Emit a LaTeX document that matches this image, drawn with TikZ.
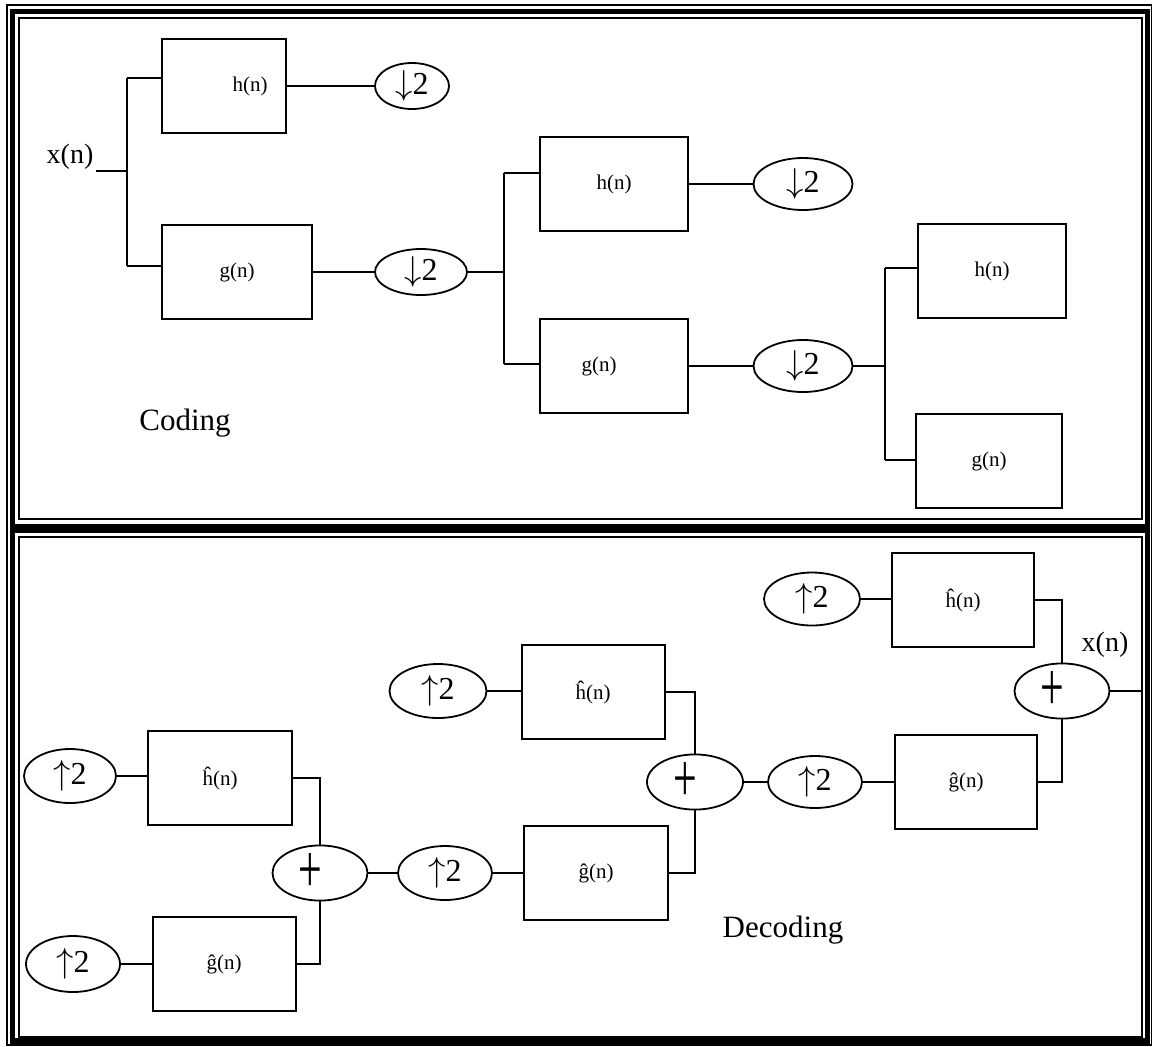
\documentclass[tikz,border=0pt]{standalone}
\usepackage{fontspec}
\setmainfont{Liberation Serif}
\usepackage{graphicx}
\usetikzlibrary{shapes.geometric}
\tikzset{
  fltbox/.style={draw,line width=1pt,inner sep=0pt,minimum width=74pt,minimum height=47pt,
                 font=\fontsize{10.5}{12}\selectfont},
  rsamp/.style={ellipse,draw,line width=0.9pt,inner sep=0pt,minimum width=47pt,minimum height=27pt,
                font=\fontsize{16}{18}\selectfont},
  sumnode/.style={ellipse,draw,line width=0.9pt,inner sep=0pt,minimum width=47.5pt,minimum height=27.5pt,
                  font=\fontsize{30}{30}\selectfont},
  wire/.style={draw,line width=0.9pt},
  sig/.style={font=\fontsize{14}{16}\selectfont},
  title/.style={font=\fontsize{15.5}{18}\selectfont},
  thinframe/.style={line width=0.8pt},
  thickframe/.style={line width=2.6pt},
}
\newcommand{\plusmark}{\hspace*{-10pt}\scalebox{0.7}[1.15]{+}}
\newcommand{\dnby}{$\downarrow$2}
\newcommand{\upby}{$\uparrow$2}

\begin{document}
\begin{tikzpicture}[x=0.5pt,y=-0.5pt]
\useasboundingbox (0,0) rectangle (1152,1046);
% --- frames ---
\draw[thinframe] (7,5) rectangle (1152,1045);
\draw[thickframe] (12.5,11.5) rectangle (1147.5,1041);
\draw[thickframe,line width=4.5pt] (12.5,528) -- (1147.5,528);
\draw[thinframe] (19,18) rectangle (1142,519);
\draw[thinframe] (19,537) rectangle (1142,1037);
% --- coding ---
\node[sig] (xin) at (70,157) {x(n)};
\coordinate (src) at (96,171);
\coordinate (jA) at (127,171);
\coordinate (jAt) at (127,78);
\coordinate (jAb) at (127,266);
\node[fltbox,minimum width=62pt] (hA) at (224,86) {\hspace*{26pt}h(n)};
\node[fltbox,minimum width=75pt] (gA) at (237,272) {g(n)};
\node[rsamp,minimum width=37pt,minimum height=23pt] (dA1) at (412,86) {\dnby};
\node[rsamp,minimum width=46pt,minimum height=23pt] (dA2) at (421,272) {\dnby};
\coordinate (jB) at (504,272);
\coordinate (jBt) at (504,173);
\coordinate (jBb) at (504,364);
\node[fltbox] (hB) at (614,184) {h(n)};
\node[fltbox] (gB) at (614,366) {\hspace*{-15pt}g(n)};
\node[rsamp,minimum width=49.5pt,minimum height=26pt] (dB1) at (803,184) {\dnby};
\node[rsamp,minimum width=49.5pt,minimum height=26pt] (dB2) at (803,366) {\dnby};
\coordinate (jC) at (885,366);
\coordinate (jCt) at (885,268);
\coordinate (jCb) at (885,460);
\node[fltbox] (hC) at (992,271) {h(n)};
\node[fltbox,minimum width=73pt] (gC) at (989,461) {g(n)};
\node[title] (cod) at (185,423) {Coding};
\draw[wire] (src) -- (jA);
\draw[wire] (jAt) -- (jAb);
\draw[wire] (jAt) -- (jAt -| hA.west);
\draw[wire] (jAb) -- (jAb -| gA.west);
\draw[wire] (hA) -- (dA1);
\draw[wire] (gA) -- (dA2);
\draw[wire] (dA2) -- (jB);
\draw[wire] (jBt) -- (jBb);
\draw[wire] (jBt) -- (jBt -| hB.west);
\draw[wire] (jBb) -- (jBb -| gB.west);
\draw[wire] (hB) -- (dB1);
\draw[wire] (gB) -- (dB2);
\draw[wire] (dB2) -- (jC);
\draw[wire] (jCt) -- (jCb);
\draw[wire] (jCt) -- (jCt -| hC.west);
\draw[wire] (jCb) -- (jCb -| gC.west);
% --- decoding ---
\node[rsamp,minimum width=46pt] (uL1) at (70,776) {\upby};
\node[rsamp,minimum width=47pt,minimum height=28pt] (uL2) at (73,964) {\upby};
\node[fltbox,minimum width=72pt] (hL) at (220,778) {ĥ(n)};
\node[fltbox,minimum width=71.5pt] (gL) at (224,964) {ĝ(n)};
\node[sumnode] (s1) at (320,873) {\plusmark};
\node[rsamp] (uM1) at (445,873) {\upby};
\node[fltbox,minimum width=72pt] (gM) at (596,873) {ĝ(n)};
\node[rsamp,minimum width=48.5pt] (uM2) at (438,691) {\upby};
\node[fltbox,minimum width=71.5pt] (hM) at (593,692) {ĥ(n)};
\node[sumnode,minimum width=48pt,minimum height=26pt] (s2) at (695,782) {\plusmark};
\node[rsamp,minimum height=26pt] (uR1) at (815,782) {\upby};
\node[fltbox,minimum width=71pt] (gR) at (966,782) {ĝ(n)};
\node[rsamp,minimum width=48pt,minimum height=26.5pt] (uR2) at (812,599) {\upby};
\node[fltbox,minimum width=71pt] (hR) at (963,600) {ĥ(n)};
\node[sumnode] (s3) at (1062,691) {\plusmark};
\coordinate (dst) at (1142,691);
\node[sig] (xout) at (1105,645) {x(n)};
\node[title] (dec) at (783,930) {Decoding};
\draw[wire] (uL1) -- (uL1 -| hL.west);
\draw[wire] (uL2) -- (gL);
\draw[wire] (hL.east) -| (s1);
\draw[wire] (gL.east) -| (s1);
\draw[wire] (s1) -- (uM1);
\draw[wire] (uM1) -- (gM);
\draw[wire] (uM2) -- (uM2 -| hM.west);
\draw[wire] (hM.east) -| (s2);
\draw[wire] (gM.east) -| (s2);
\draw[wire] (s2) -- (uR1);
\draw[wire] (uR1) -- (gR);
\draw[wire] (uR2) -- (uR2 -| hR.west);
\draw[wire] (hR.east) -| (s3);
\draw[wire] (gR.east) -| (s3);
\draw[wire] (s3) -- (dst);
\end{tikzpicture}
\end{document}
